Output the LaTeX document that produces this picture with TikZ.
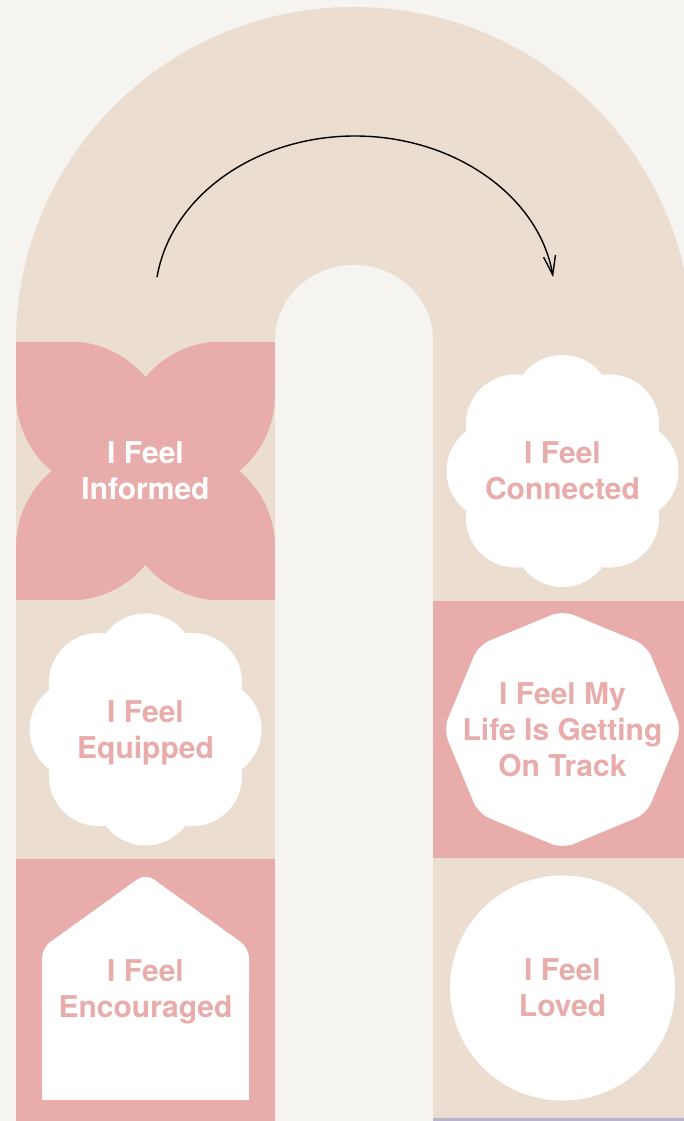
\documentclass[tikz,border=0pt]{standalone}
\usepackage{fontspec}
\setmainfont{TeX Gyre Heros}
\usetikzlibrary{arrows.meta}
\definecolor{paper}{HTML}{F6F4F0}
\definecolor{sand}{HTML}{EBDDCF}
\definecolor{rose}{HTML}{E8ACAB}
\definecolor{lilac}{HTML}{B8B2CC}
\begin{document}
\begin{tikzpicture}[
  x=1pt, y=1pt,
  every node/.style={font=\fontsize{30}{36}\selectfont\bfseries,
    align=center, text depth=0pt},
  onrose/.style={text=white},
  onwhite/.style={text=rose},
]
\def\W{684}
\def\H{1121}
\useasboundingbox (0,0) rectangle (\W,\H);
\clip (0,0) rectangle (\W,\H);
\fill[paper] (0,0) rectangle (\W,\H);

% ── arch ──────────────────
\fill[sand] (16,0) -- (16,779)
  arc[start angle=180, end angle=0, x radius=338, y radius=335]
  -- (692,0) -- cycle;
\fill[paper] (275,0) -- (275,781)
  arc[start angle=180, end angle=0, x radius=79, y radius=75]
  -- (433,0) -- cycle;

% ── tiles ─────────────────
\fill[rose] (16,521) rectangle (275,779);
\fill[rose] (433,263) rectangle (692,520);
\fill[rose] (16,0) rectangle (275,262);
\fill[lilac] (433,0) rectangle (692,3);

% ── informed: four petals ─
\foreach \a in {0,90,180,270}
  \fill[sand, shift={(145.5,650)}, rotate=\a] (-75.5,129.5)
    arc[start angle=90, end angle=39.6, radius=98]
    arc[start angle=140.4, end angle=90, radius=98] -- cycle;
\node[onrose] (informed) at (145.5,650) {I Feel\\Informed};

% ── clouds ────────────────
\foreach \cx/\cy in {145.5/391.5, 562.5/650} {
  \fill[white] (\cx,\cy) circle[radius=100];
  \foreach \k in {0,45,...,315}
    \fill[white] (\cx,\cy) ++(\k:66.3) circle[radius=49.7];
}
\node[onwhite] (equipped) at (145.5,391.5) {I Feel\\Equipped};
\node[onwhite] (connected) at (562.5,650) {I Feel\\Connected};

% ── octagon ───────────────
\fill[white, rounded corners=12pt, shift={(562.5,391.5)}]
  (90:119) \foreach \k in {135,180,...,405} { -- (\k:119) } -- cycle;
\node[onwhite] (track) at (562.5,391.5) {I Feel My\\Life Is Getting\\On Track};

% ── house ─────────────────
\fill[white, rounded corners=10pt]
  (42,120) -- (42,173) -- (145.5,247.5) -- (249,173) -- (249,120) -- cycle;
\fill[white] (42,21) rectangle (249,150);
\node[onwhite] (encouraged) at (145.5,132) {I Feel\\Encouraged};

% ── circle ────────────────
\node[onwhite, circle, fill=white, minimum size=225pt, inner sep=0pt]
  (loved) at (562.5,133) {I Feel\\Loved};

% ── swing arrow ───────────
\coordinate (swing) at (157,843.8);
\draw[line width=1.4pt, -{Straight Barb[length=19pt, width=12pt]}]
  (swing) arc[start angle=172, end angle=8, x radius=200, y radius=164];

\end{tikzpicture}
\end{document}
